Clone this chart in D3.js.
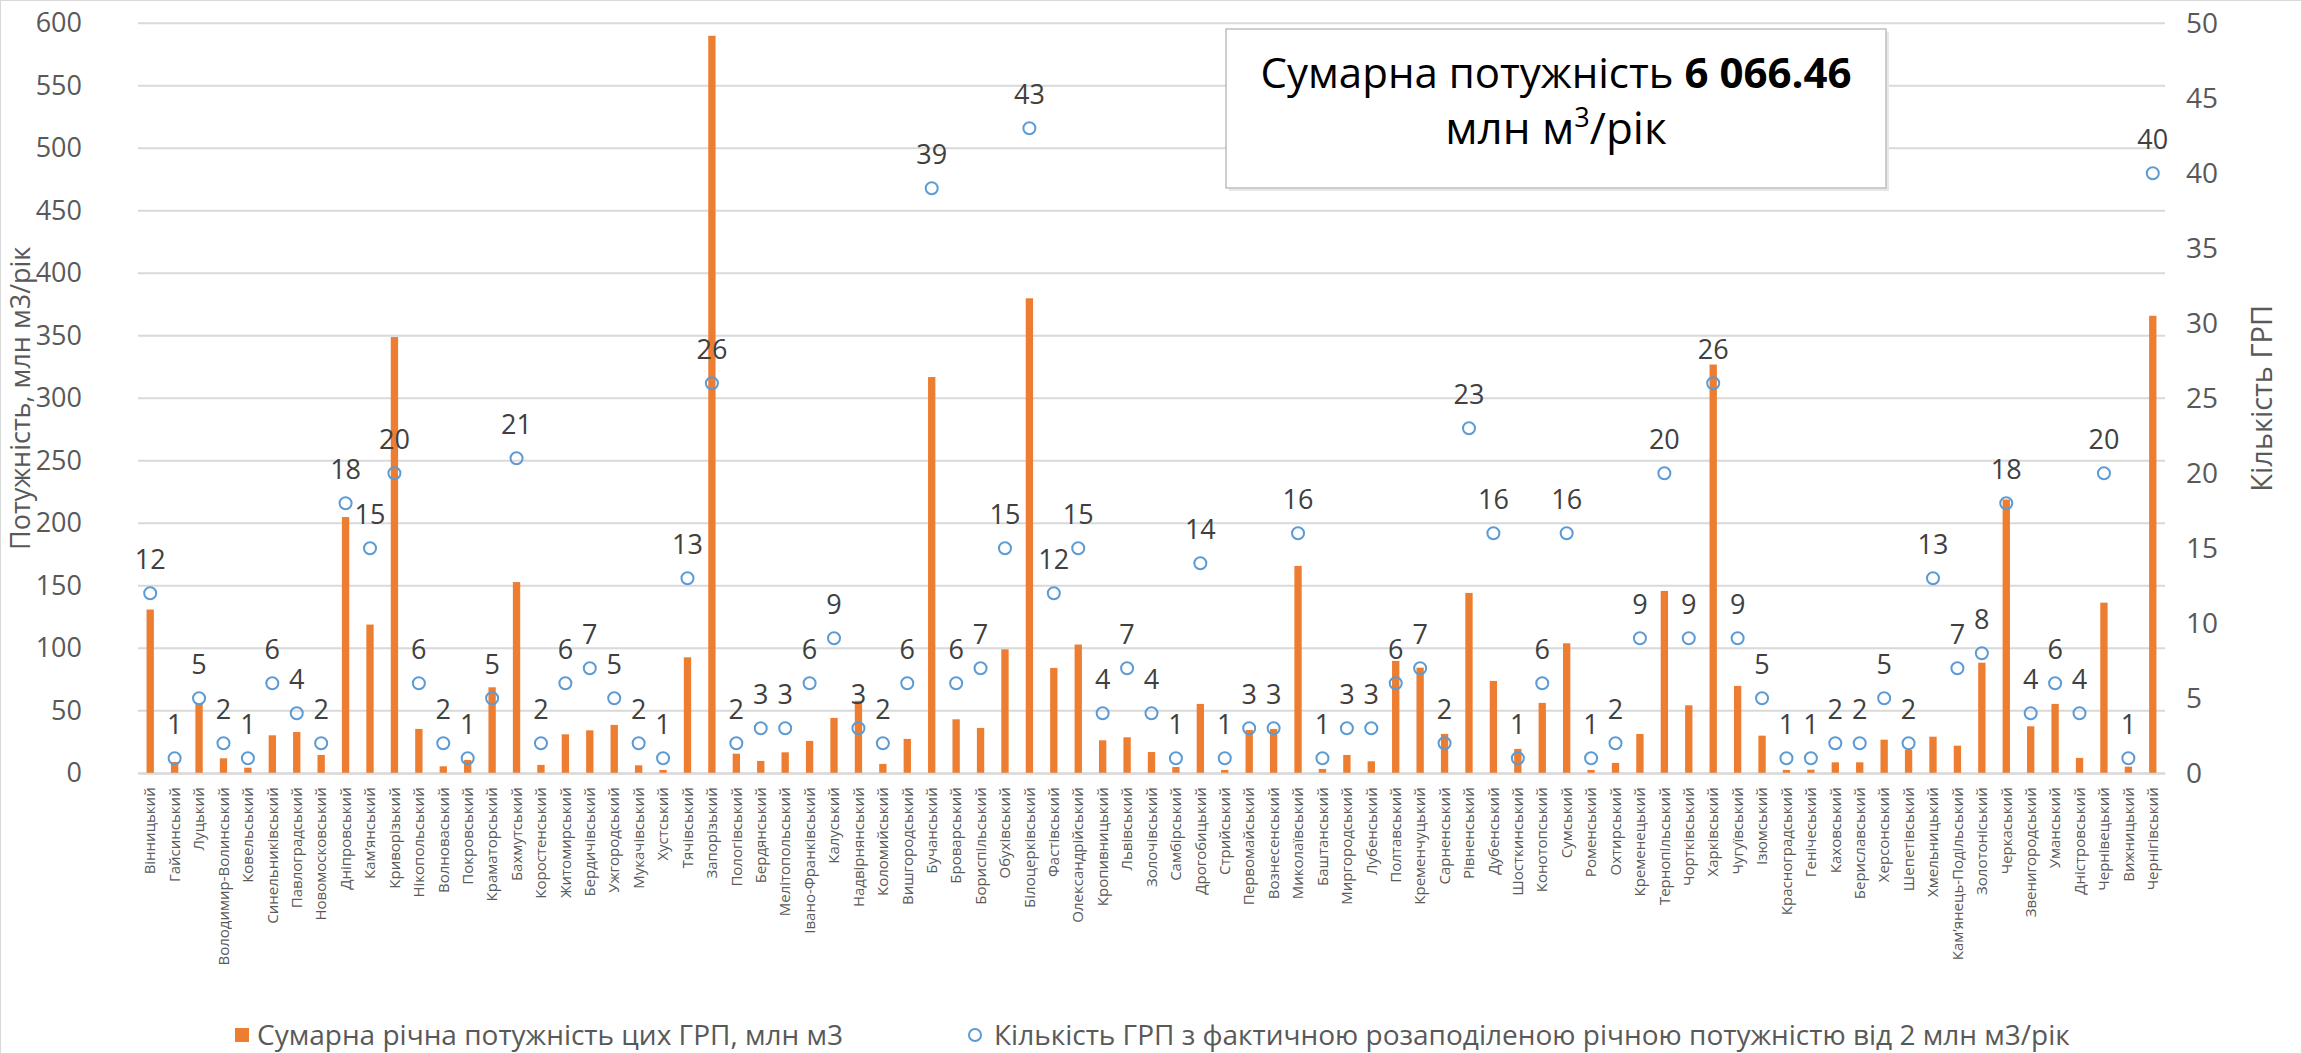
<!DOCTYPE html>
<html><head><meta charset="utf-8">
<script src="https://cdn.jsdelivr.net/npm/d3@7"></script>
<style>body{margin:0;background:#fff}svg{display:block}</style>
</head><body>
<script>
const categories = ["Вінницький","Гайсинський","Луцький","Володимир-Волинський","Ковельський","Синельниківський","Павлоградський","Новомосковський","Дніпровський","Кам’янський","Криворізький","Нікопольський","Волноваський","Покровський","Краматорський","Бахмутський","Коростенський","Житомирський","Бердичівський","Ужгородський","Мукачівський","Хустський","Тячівський","Запорізький","Пологівський","Бердянський","Мелітопольський","Івано-Франківський","Калуський","Надвірнянський","Коломийський","Вишгородський","Бучанський","Броварський","Бориспільський","Обухівський","Білоцерківський","Фастівський","Олександрійський","Кропивницький","Львівський","Золочівський","Самбірський","Дрогобицький","Стрийський","Первомайський","Вознесенський","Миколаївський","Баштанський","Миргородський","Лубенський","Полтавський","Кременчуцький","Сарненський","Рівненський","Дубенський","Шосткинський","Конотопський","Сумський","Роменський","Охтирський","Кременецький","Тернопільський","Чортківський","Харківський","Чугуївський","Ізюмський","Красноградський","Генічеський","Каховський","Бериславський","Херсонський","Шепетівський","Хмельницький","Кам’янець-Подільський","Золотоніський","Черкаський","Звенигородський","Уманський","Дністровський","Чернівецький","Вижницький","Чернігівський"];
const capacity = [131,9,56,12,4.5,30.4,33,14.7,205,119,349,35.5,5.6,10.7,68.8,153,6.7,31.2,34.4,38.7,6.4,2.7,92.8,590,15.7,9.9,16.8,25.9,44.3,58,7.5,27.5,317,43.2,36.3,99.2,380,84.3,103,26.4,28.8,17,5,55.5,2.7,34.7,35.5,165.9,3.5,14.7,9.6,89.9,84.5,31.5,144.3,73.9,19.5,56.3,104,2.7,8.3,31.5,145.9,54.4,327,69.9,30.1,2.7,2.9,8.8,8.8,26.9,18.7,29.3,22.1,88.5,219,37.6,55.5,12.3,136.5,5.3,366];
const counts = [12,1,5,2,1,6,4,2,18,15,20,6,2,1,5,21,2,6,7,5,2,1,13,26,2,3,3,6,9,3,2,6,39,6,7,15,43,12,15,4,7,4,1,14,1,3,3,16,1,3,3,6,7,2,23,16,1,6,16,1,2,9,20,9,26,9,5,1,1,2,2,5,2,13,7,8,18,4,6,4,20,1,40];
const leftTicks = [0,50,100,150,200,250,300,350,400,450,500,550,600];
const rightTicks = [0,5,10,15,20,25,30,35,40,45,50];
const legendLabels = ["Сумарна річна потужність цих ГРП, млн м3","Кількість ГРП з фактичною розаподіленою річною потужністю від 2 млн м3/рік"];
const totalText = "6 066.46";

const W = 2302, H = 1054;
const m = {left:138, right:2165, top:23.3, bottom:773.3};
const svg = d3.select("body").append("svg").attr("width",W).attr("height",H);
svg.append("rect").attr("x",0.5).attr("y",0.5).attr("width",W-1).attr("height",H-1).attr("fill","#fff").attr("stroke","#d9d9d9");

const x = d3.scaleBand().domain(categories).range([m.left,m.right]).paddingInner(0.7).paddingOuter(0.35);
const xc = d3.scaleBand().domain(categories).range([m.left,m.right]);
const yL = d3.scaleLinear().domain([0,600]).range([m.bottom,m.top]);
const yR = d3.scaleLinear().domain([0,50]).range([m.bottom,m.top]);
const font = "'Open Sans', 'Noto Sans', sans-serif";
const txt = "#595959";

// gridlines
svg.append("g").selectAll("line").data(leftTicks).join("line")
  .attr("x1",m.left).attr("x2",m.right).attr("y1",d=>yL(d)).attr("y2",d=>yL(d))
  .attr("stroke","#d9d9d9").attr("stroke-width",2);

// left axis
const gl = svg.append("g").attr("transform",`translate(82,0)`)
  .call(d3.axisLeft(yL).tickValues(leftTicks).tickSize(0).tickPadding(0));
gl.select(".domain").remove();
gl.selectAll("text").attr("font-family",font).attr("font-size",27).attr("fill",txt);

// right axis
const gr = svg.append("g").attr("transform",`translate(2186,0)`)
  .call(d3.axisRight(yR).tickValues(rightTicks).tickSize(0).tickPadding(0));
gr.select(".domain").remove();
gr.selectAll("text").attr("font-family",font).attr("font-size",28).attr("fill",txt);

// axis titles
svg.append("text").attr("transform",`translate(21,${(m.top+m.bottom)/2}) rotate(-90)`)
  .attr("text-anchor","middle").attr("dy","0.35em").attr("font-family",font).attr("font-size",27).attr("fill",txt)
  .text("Потужність, млн м3/рік");
svg.append("text").attr("transform",`translate(2262,${(m.top+m.bottom)/2}) rotate(-90)`)
  .attr("text-anchor","middle").attr("dy","0.35em").attr("font-family",font).attr("font-size",29).attr("fill",txt)
  .text("Кількість ГРП");

// bars
svg.append("g").selectAll("rect").data(categories).join("rect")
  .attr("x",d=>x(d)).attr("width",x.bandwidth())
  .attr("y",(d,i)=>yL(capacity[i])).attr("height",(d,i)=>yL(0)-yL(capacity[i]))
  .attr("fill","#ed7d31");

// x labels
const gx = svg.append("g").attr("transform",`translate(0,${m.bottom})`)
  .call(d3.axisBottom(xc).tickSize(0).tickPadding(0));
gx.select(".domain").attr("stroke","#d9d9d9").attr("stroke-width",2);
gx.selectAll("text").attr("font-family",font).attr("font-size",15).attr("fill",txt)
  .attr("text-anchor","end").attr("dy","0.35em")
  .attr("transform","translate(0,14) rotate(-90)").attr("x",0).attr("y",0);

// dots
svg.append("g").selectAll("circle").data(categories).join("circle")
  .attr("cx",d=>xc(d)+xc.bandwidth()/2).attr("cy",(d,i)=>yR(counts[i]))
  .attr("r",6).attr("fill","#fff").attr("fill-opacity",0).attr("stroke","#5b9bd5").attr("stroke-width",2);
svg.append("g").selectAll("text").data(categories).join("text")
  .attr("x",d=>xc(d)+xc.bandwidth()/2).attr("y",(d,i)=>yR(counts[i])-24)
  .attr("text-anchor","middle").attr("font-family",font).attr("font-size",27).attr("fill","#404040")
  .text((d,i)=>counts[i]);

// annotation box
const bx = 1226, by = 29, bw = 660, bh = 159;
svg.append("rect").attr("x",bx+3).attr("y",by+3).attr("width",bw).attr("height",bh).attr("fill","#e8e8e8");
svg.append("rect").attr("x",bx).attr("y",by).attr("width",bw).attr("height",bh).attr("fill","#fff").attr("stroke","#bfbfbf").attr("stroke-width",1.5);
const t1 = svg.append("text").attr("x",bx+bw/2).attr("y",88).attr("text-anchor","middle")
  .attr("font-family",font).attr("font-size",42).attr("fill","#000");
t1.append("tspan").text("Сумарна потужність ");
t1.append("tspan").attr("font-weight","bold").text(totalText);
const t2 = svg.append("text").attr("x",bx+bw/2).attr("y",144).attr("text-anchor","middle")
  .attr("font-family",font).attr("font-size",44).attr("fill","#000");
t2.append("tspan").text("млн м");
t2.append("tspan").attr("font-size",27).attr("dy",-17).text("3");
t2.append("tspan").attr("dy",17).text("/рік");

// legend
const ly = 1035;
svg.append("rect").attr("x",235).attr("y",ly-7).attr("width",14).attr("height",14).attr("fill","#ed7d31");
svg.append("text").attr("x",257).attr("y",ly).attr("dy","0.35em").attr("font-family",font).attr("font-size",28).attr("fill",txt).text(legendLabels[0]);
svg.append("circle").attr("cx",975).attr("cy",ly).attr("r",6).attr("fill","none").attr("stroke","#5b9bd5").attr("stroke-width",2);
svg.append("text").attr("x",994).attr("y",ly).attr("dy","0.35em").attr("font-family",font).attr("font-size",28).attr("fill",txt).text(legendLabels[1]);
</script>
</body></html>
